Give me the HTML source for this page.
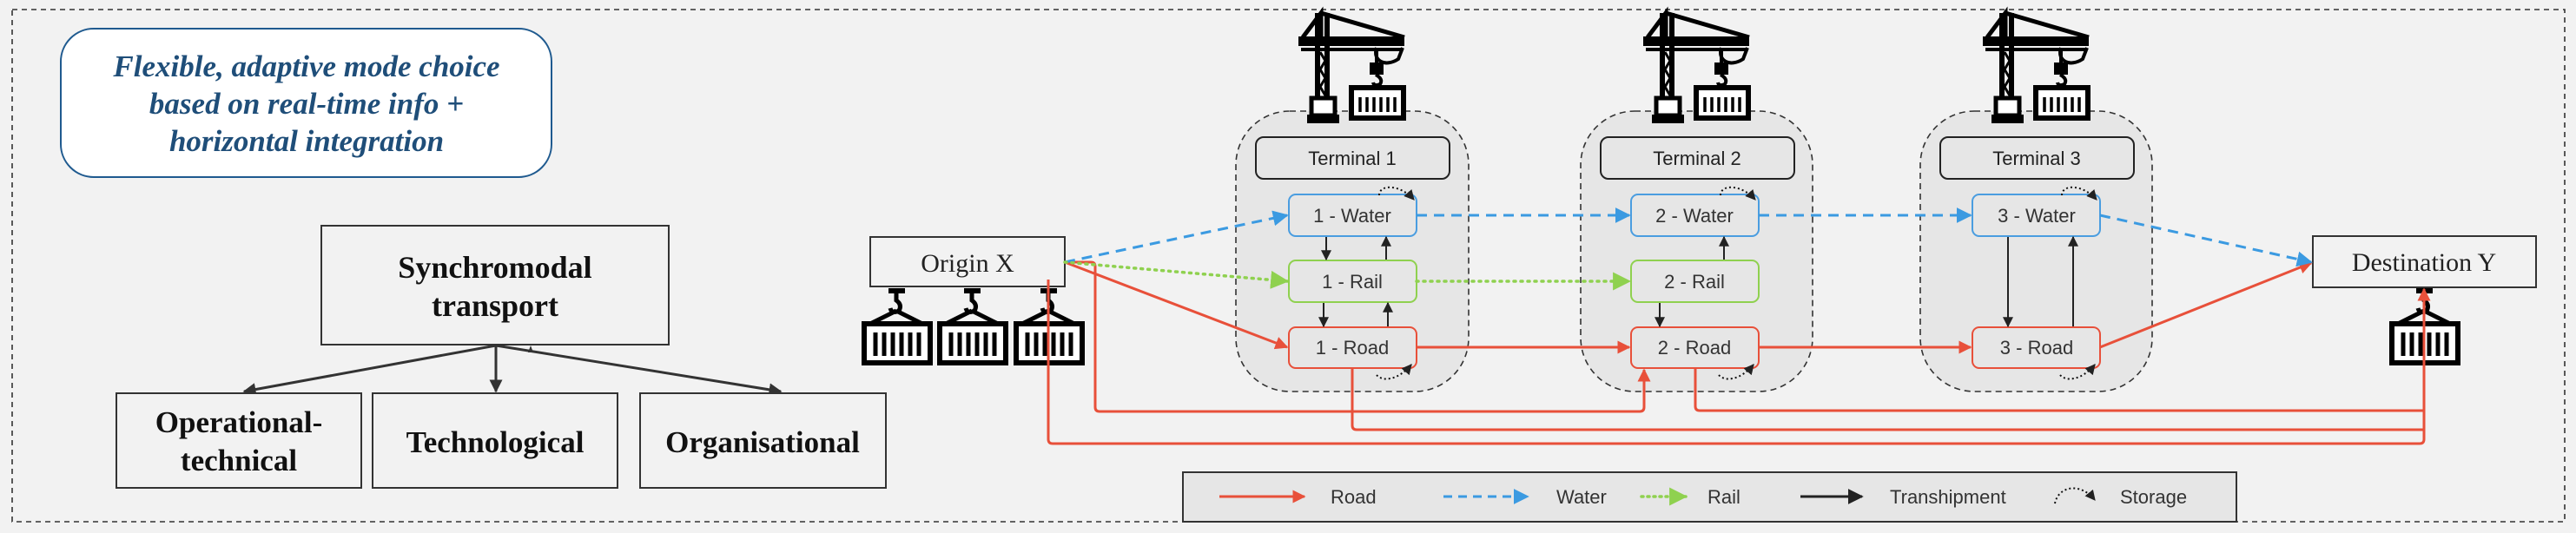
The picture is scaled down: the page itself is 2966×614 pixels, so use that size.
<!DOCTYPE html>
<html><head><meta charset="utf-8"><style>
html,body{margin:0;padding:0;background:#f2f2f2;}
svg{display:block;}
.serif{font-family:"Liberation Serif",serif;}
.sans{font-family:"Liberation Sans",sans-serif;}
</style></head><body>
<svg width="2966" height="614" viewBox="0 0 2966 614" xmlns="http://www.w3.org/2000/svg">
<defs>
<marker id="ar" viewBox="0 0 10 10" refX="9" refY="5" markerWidth="5" markerHeight="5" orient="auto"><path d="M0,0L10,5L0,10z" fill="#e8503a"/></marker>
<marker id="ab" viewBox="0 0 10 10" refX="9" refY="5" markerWidth="6" markerHeight="6" orient="auto"><path d="M0,0L10,5L0,10z" fill="#3b9ae1"/></marker>
<marker id="ag" viewBox="0 0 10 10" refX="9" refY="5" markerWidth="6" markerHeight="6" orient="auto"><path d="M0,0L10,5L0,10z" fill="#8fd14f"/></marker>
<marker id="ak" viewBox="0 0 10 10" refX="9" refY="5" markerWidth="6" markerHeight="6" orient="auto"><path d="M0,0L10,5L0,10z" fill="#222"/></marker>
<marker id="ak2" viewBox="0 0 10 10" refX="9" refY="5" markerWidth="5" markerHeight="5" orient="auto"><path d="M0,0L10,5L0,10z" fill="#333"/></marker>
<g id="crane" fill="none" stroke="#000">
 <rect x="15" y="32" width="122" height="11" fill="#000" stroke="none"/>
 <rect x="18" y="45" width="116" height="4" fill="#000" stroke="none"/>
 <path d="M41,5 L137,33" stroke-width="5"/>
 <path d="M20,33 L41,5 L41,33" stroke-width="5"/>
 <rect x="34" y="5" width="6" height="100" fill="#000" stroke="none"/>
 <rect x="45" y="5" width="6" height="100" fill="#000" stroke="none"/>
 <path d="M40,50 L46,60 L40,70 L46,80 L40,90 L46,100" stroke-width="3"/>
 <rect x="30" y="103" width="27" height="20" stroke-width="5" fill="#fff"/>
 <rect x="25" y="122" width="37" height="10" fill="#000" stroke="none"/>
 <path d="M105,45 C100,60 115,68 130,58 L135,45" stroke-width="4"/>
 <line x1="105" y1="45" x2="105" y2="62" stroke-width="4"/>
 <rect x="97" y="62" width="16" height="14" fill="#000" stroke="none"/>
 <path d="M104,76 q9,5 5,11 q-7,3 -8,-2" stroke-width="4"/>
 <rect x="76" y="91" width="60" height="35" stroke-width="6" fill="#fff"/>
 <path d="M86,102v17M94,102v17M102,102v17M110,102v17M118,102v17M126,102v17" stroke-width="3.5"/>
</g>
<g id="cont" fill="none" stroke="#000">
 <rect x="33" y="12" width="19" height="6" fill="#000" stroke="none"/>
 <path d="M42,18 v8 q7,5 3,12 q-8,4 -10,-3" stroke-width="5"/>
 <path d="M42,38 L12,53 M42,38 L72,53" stroke-width="5"/>
 <rect x="5" y="53" width="76" height="45" stroke-width="6" fill="#fff"/>
 <path d="M18,63v27M28,63v27M38,63v27M48,63v27M58,63v27M68,63v27" stroke-width="5"/>
</g>
</defs>

<rect x="14" y="11" width="2939" height="590" fill="none" stroke="#333" stroke-width="1.6" stroke-dasharray="6,5"/>

<rect x="70" y="33" width="565" height="171" rx="38" fill="#fff" stroke="#1f5a8f" stroke-width="2"/>
<g class="serif" font-size="35" font-weight="bold" font-style="italic" fill="#1f4e79" text-anchor="middle">
<text x="353" y="88">Flexible, adaptive mode choice</text>
<text x="353" y="131">based on real-time info +</text>
<text x="353" y="174">horizontal integration</text>
</g>

<rect x="370" y="260" width="400" height="137" fill="#f2f2f2" stroke="#333" stroke-width="2"/>
<g class="serif" font-size="36" font-weight="bold" fill="#111" text-anchor="middle">
<text x="570" y="320">Synchromodal</text>
<text x="570" y="364">transport</text>
</g>
<g stroke="#333" stroke-width="3" fill="none" marker-end="url(#ak2)">
<line x1="571" y1="398" x2="281" y2="451"/>
<line x1="571" y1="398" x2="571" y2="451"/>
<line x1="571" y1="398" x2="899" y2="451"/>
</g>
<path d="M608,406 L611,398 L614,406z" fill="#333"/>
<rect x="134" y="453" width="282" height="109" fill="#f2f2f2" stroke="#333" stroke-width="2"/>
<rect x="429" y="453" width="282" height="109" fill="#f2f2f2" stroke="#333" stroke-width="2"/>
<rect x="737" y="453" width="283" height="109" fill="#f2f2f2" stroke="#333" stroke-width="2"/>
<g class="serif" font-size="35" font-weight="bold" fill="#111" text-anchor="middle">
<text x="275" y="498">Operational-</text>
<text x="275" y="542">technical</text>
<text x="570" y="521">Technological</text>
<text x="878" y="521">Organisational</text>
</g>

<g fill="#e6e6e6" stroke="#333" stroke-width="1.6" stroke-dasharray="7,5">
<rect x="1423" y="128" width="268" height="323" rx="62"/>
<rect x="1820" y="128" width="267" height="323" rx="62"/>
<rect x="2211" y="128" width="267" height="323" rx="62"/>
</g>
<use href="#crane" x="1480" y="10"/>
<use href="#crane" x="1877" y="10"/>
<use href="#crane" x="2268" y="10"/>

<g fill="#e6e6e6" stroke="#222" stroke-width="2">
<rect x="1446" y="158" width="223" height="48" rx="9"/>
<rect x="1843" y="158" width="223" height="48" rx="9"/>
<rect x="2234" y="158" width="223" height="48" rx="9"/>
</g>
<g class="sans" font-size="22" fill="#222" text-anchor="middle">
<text x="1557" y="190">Terminal 1</text>
<text x="1954" y="190">Terminal 2</text>
<text x="2345" y="190">Terminal 3</text>
</g>

<g fill="#e6e6e6" stroke-width="2">
<rect x="1484" y="224" width="147" height="48" rx="8" stroke="#4a9de0"/>
<rect x="1484" y="300" width="147" height="48" rx="8" stroke="#8fd14f"/>
<rect x="1484" y="377" width="147" height="47" rx="8" stroke="#e8503a"/>
<rect x="1878" y="224" width="147" height="48" rx="8" stroke="#4a9de0"/>
<rect x="1878" y="300" width="147" height="48" rx="8" stroke="#8fd14f"/>
<rect x="1878" y="377" width="147" height="47" rx="8" stroke="#e8503a"/>
<rect x="2271" y="224" width="147" height="48" rx="8" stroke="#4a9de0"/>
<rect x="2271" y="377" width="147" height="47" rx="8" stroke="#e8503a"/>
</g>
<g class="sans" font-size="22" fill="#333" text-anchor="middle">
<text x="1557" y="256">1 - Water</text>
<text x="1557" y="332">1 - Rail</text>
<text x="1557" y="408">1 - Road</text>
<text x="1951" y="256">2 - Water</text>
<text x="1951" y="332">2 - Rail</text>
<text x="1951" y="408">2 - Road</text>
<text x="2345" y="256">3 - Water</text>
<text x="2345" y="408">3 - Road</text>
</g>

<g stroke="#222" stroke-width="2" marker-end="url(#ak)">
<line x1="1527" y1="273" x2="1527" y2="299"/>
<line x1="1596" y1="299" x2="1596" y2="273"/>
<line x1="1524" y1="349" x2="1524" y2="376"/>
<line x1="1598" y1="376" x2="1598" y2="349"/>
<line x1="1985" y1="299" x2="1985" y2="273"/>
<line x1="1911" y1="349" x2="1911" y2="376"/>
<line x1="2312" y1="273" x2="2312" y2="376"/>
<line x1="2387" y1="376" x2="2387" y2="273"/>
</g>
<g fill="none" stroke="#111" stroke-width="2" stroke-dasharray="2,3" marker-end="url(#ak)">
<path d="M1588,225 C1588,212 1612,212 1628,230"/>
<path d="M1981,225 C1981,212 2005,212 2021,230"/>
<path d="M2374,225 C2374,212 2398,212 2414,230"/>
<path d="M1585,432 C1592,440 1610,438 1625,420"/>
<path d="M1979,432 C1986,440 2004,438 2019,420"/>
<path d="M2372,432 C2379,440 2397,438 2412,420"/>
</g>

<rect x="1002" y="273" width="224" height="57" fill="#f2f2f2" stroke="#333" stroke-width="2"/>
<text x="1114" y="313" class="serif" font-size="30" fill="#222" text-anchor="middle">Origin X</text>
<rect x="2663" y="272" width="257" height="59" fill="#f2f2f2" stroke="#333" stroke-width="2"/>
<text x="2791" y="312" class="serif" font-size="30" fill="#222" text-anchor="middle">Destination Y</text>
<use href="#cont" x="990" y="320"/>
<use href="#cont" x="1077" y="320"/>
<use href="#cont" x="1165" y="320"/>
<use href="#cont" x="2749" y="320"/>

<g fill="none" stroke="#e8503a" stroke-width="3">
<path d="M1226,302 L1482,400" marker-end="url(#ar)"/>
<path d="M1631,400 L1876,400" marker-end="url(#ar)"/>
<path d="M2025,400 L2269,400" marker-end="url(#ar)"/>
<path d="M2418,400 L2661,303" marker-end="url(#ar)"/>
<path d="M1226,302 L1256,302 Q1261,302 1261,307 L1261,469 Q1261,474 1266,474 L1888,474 Q1893,474 1893,469 L1893,426" marker-end="url(#ar)"/>
<path d="M1207,322 L1207,506 Q1207,511 1212,511 L2786,511 Q2791,511 2791,506 L2791,333" marker-end="url(#ar)"/>
<path d="M1557,424 L1557,490 Q1557,495 1562,495 L2791,495"/>
<path d="M1952,424 L1952,468 Q1952,473 1957,473 L2791,473"/>
</g>
<g fill="none" stroke="#3b9ae1" stroke-width="3" stroke-dasharray="12,8">
<path d="M1226,302 L1482,248" marker-end="url(#ab)"/>
<path d="M1631,248 L1876,248" marker-end="url(#ab)"/>
<path d="M2025,248 L2269,248" marker-end="url(#ab)"/>
<path d="M2418,248 L2661,302" marker-end="url(#ab)"/>
</g>
<g fill="none" stroke="#8fd14f" stroke-width="3.5" stroke-dasharray="2,6" stroke-linecap="round">
<path d="M1226,302 L1482,324" marker-end="url(#ag)"/>
<path d="M1631,324 L1876,324" marker-end="url(#ag)"/>
</g>

<rect x="1362" y="544" width="1213" height="57" fill="#e6e6e6" stroke="#333" stroke-width="2"/>
<g class="sans" font-size="22" fill="#333">
<text x="1532" y="580">Road</text>
<text x="1792" y="580">Water</text>
<text x="1966" y="580">Rail</text>
<text x="2176" y="580">Transhipment</text>
<text x="2441" y="580">Storage</text>
</g>
<line x1="1404" y1="572" x2="1502" y2="572" stroke="#e8503a" stroke-width="3" marker-end="url(#ar)"/>
<line x1="1662" y1="572" x2="1759" y2="572" stroke="#3b9ae1" stroke-width="3" stroke-dasharray="10,7" marker-end="url(#ab)"/>
<line x1="1890" y1="572" x2="1941" y2="572" stroke="#8fd14f" stroke-width="3.5" stroke-dasharray="2,5" stroke-linecap="round" marker-end="url(#ag)"/>
<line x1="2073" y1="572" x2="2144" y2="572" stroke="#222" stroke-width="3" marker-end="url(#ak)"/>
<path d="M2366,580 C2370,560 2395,555 2412,576" fill="none" stroke="#111" stroke-width="2" stroke-dasharray="2,3" marker-end="url(#ak)"/>
</svg>
</body></html>
